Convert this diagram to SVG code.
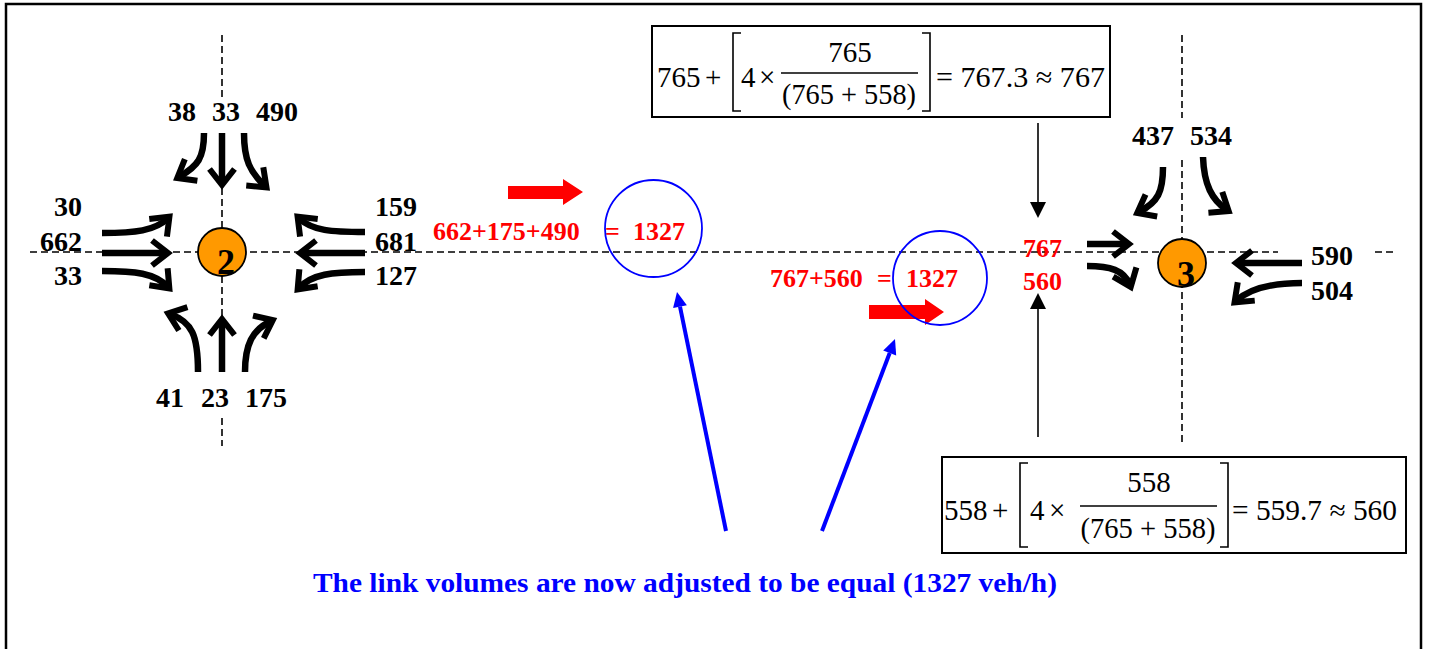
<svg xmlns="http://www.w3.org/2000/svg" width="1429" height="649" viewBox="0 0 1429 649">
<defs>
<style>
.t{font-family:"Liberation Serif","Times New Roman",serif;}
.lab{font-family:"Liberation Serif","Times New Roman",serif;font-weight:bold;font-size:28px;fill:#000;}
.red{font-family:"Liberation Serif","Times New Roman",serif;font-weight:bold;font-size:26px;fill:#FF0000;}
.num{font-family:"Liberation Serif","Times New Roman",serif;font-weight:bold;font-size:36px;fill:#000;text-anchor:middle;}
.eq{font-family:"Liberation Serif","Times New Roman",serif;font-size:29px;fill:#000;}
.dash{stroke:#000;stroke-width:1.6;stroke-dasharray:7 4;fill:none;}
.mv{stroke:#000;stroke-width:6.5;fill:none;marker-end:url(#chev);}
.node{fill:#FF9900;stroke:#000;stroke-width:1.8;}
.box{fill:#fff;stroke:#000;stroke-width:2;}
.brk{fill:none;stroke:#000;stroke-width:1.6;}
.blue{stroke:#0000FF;stroke-width:4;fill:none;}
.bc{fill:none;stroke:#0000FF;stroke-width:1.8;}
</style>
<marker id="chev" markerUnits="userSpaceOnUse" markerWidth="40" markerHeight="40" viewBox="-20 -20 40 40" refX="0" refY="0" orient="auto" overflow="visible">
<path d="M-14,-12.5 L2,0 L-14,12.5" fill="none" stroke="#000" stroke-width="6" stroke-linejoin="miter"/>
</marker>
</defs>
<rect x="0" y="0" width="1429" height="649" fill="#fff"/>
<rect x="6" y="4" width="1415" height="700" fill="none" stroke="#000" stroke-width="2.5"/>

<g id="grid">
<path class="dash" d="M30,252 H1278 M1375,252 H1396"/>
<path class="dash" d="M222,35 V97 M222,133 V372 M222,418 V446"/>
<path class="dash" d="M1182,35 V118 M1182,160 V446"/>
</g>

<g id="connectors">
<path class="mv" d="M102,233 C135,233 155,231 168,218"/>
<path class="mv" d="M102,253 H166"/>
<path class="mv" d="M102,271 C135,271 155,273 168,287"/>
<path class="mv" d="M365,232 C332,232 312,231 299,218"/>
<path class="mv" d="M365,253 H302"/>
<path class="mv" d="M365,272 C332,272 312,274 299,288"/>
<path class="mv" d="M204,133 C204,158 198,166 179,177"/>
<path class="mv" d="M222,133 V183"/>
<path class="mv" d="M244,133 C244,160 250,172 265,186"/>
<path class="mv" d="M198,372 C198,335 192,322 170,314"/>
<path class="mv" d="M222,372 V321"/>
<path class="mv" d="M245,372 C245,345 252,330 271,321"/>
<path class="mv" d="M1087,244 H1127"/>
<path class="mv" d="M1087,266 C1110,266 1124,270 1130,285"/>
<path class="mv" d="M1163,167 C1163,192 1158,202 1139,212"/>
<path class="mv" d="M1203,157 C1204,185 1212,200 1227,210"/>
<path class="mv" d="M1302,263 H1238"/>
<path class="mv" d="M1302,283 C1272,283 1250,288 1236,301"/>
<path d="M1038,123 V204" stroke="#000" stroke-width="1.6"/>
<polygon points="1038,218 1030,202 1046,202" fill="#000"/>
<path d="M1038,437 V308" stroke="#000" stroke-width="1.6"/>
<polygon points="1038,293 1030,309 1046,309" fill="#000"/>
<path class="blue" d="M726,531 L680,306.7"/>
<polygon points="677,292 686.9,305.3 673.1,308.1" fill="#0000FF"/>
<path class="blue" d="M822,531 L889.7,353"/>
<polygon points="895,339 896.2,355.5 883.2,350.5" fill="#0000FF"/>
<polygon points="508,186 563,186 563,179 583,192 563,205 563,199 508,199" fill="#FF0000"/>
<polygon points="869,305 925,305 925,299 944,312 925,325 925,319 869,319" fill="#FF0000"/>
</g>

<g id="node2">
<circle class="node" cx="222" cy="252" r="24"/>
<text class="num" x="226" y="274">2</text>
</g>
<g id="node3">
<circle class="node" cx="1182" cy="263" r="24"/>
<text class="num" x="1186" y="286">3</text>
</g>

<g id="labels2">
<text class="lab" x="168" y="121">38</text>
<text class="lab" x="212" y="121">33</text>
<text class="lab" x="256" y="121">490</text>
<text class="lab" x="82" y="216" text-anchor="end">30</text>
<text class="lab" x="82" y="251" text-anchor="end">662</text>
<text class="lab" x="82" y="285" text-anchor="end">33</text>
<text class="lab" x="375" y="216">159</text>
<text class="lab" x="375" y="251">681</text>
<text class="lab" x="375" y="285">127</text>
<text class="lab" x="156" y="407">41</text>
<text class="lab" x="201" y="407">23</text>
<text class="lab" x="245" y="407">175</text>
</g>
<g id="labels3">
<text class="lab" x="1132" y="145">437</text>
<text class="lab" x="1190" y="145">534</text>
<text class="lab" x="1311" y="265">590</text>
<text class="lab" x="1311" y="300">504</text>
<text class="red" x="1023" y="257">767</text>
<text class="red" x="1023" y="290">560</text>
</g>

<g id="sum1">
<text class="red" x="433" y="240">662+175+490</text>
<text class="red" x="605" y="240">=</text>
<text class="red" x="633" y="240">1327</text>
<circle class="bc" cx="653.5" cy="228.5" r="48.5"/>
</g>
<g id="sum2">
<text class="red" x="770" y="287">767+560</text>
<text class="red" x="877" y="287">=</text>
<text class="red" x="906" y="287">1327</text>
<circle class="bc" cx="940" cy="278" r="47"/>
</g>

<g id="formula1">
<rect class="box" x="652" y="26" width="458" height="91"/>
<text class="eq" x="657" y="87">765</text>
<text class="eq" x="705" y="87">+</text>
<path class="brk" d="M741,33 H733 V111 H741"/>
<text class="eq" x="741" y="87">4</text>
<text class="eq" x="759" y="87">×</text>
<text class="eq" x="850" y="62" text-anchor="middle">765</text>
<path d="M781,73 H918" stroke="#000" stroke-width="1.4"/>
<text class="eq" x="849" y="104" text-anchor="middle" textLength="134" lengthAdjust="spacingAndGlyphs">(765 + 558)</text>
<path class="brk" d="M922,33 H930 V111 H922"/>
<text class="eq" x="936" y="87" textLength="169" lengthAdjust="spacingAndGlyphs">= 767.3 ≈ 767</text>
</g>

<g id="formula2">
<rect class="box" x="942" y="457" width="464" height="96"/>
<text class="eq" x="944" y="520">558</text>
<text class="eq" x="992" y="520">+</text>
<path class="brk" d="M1028,463 H1020 V547 H1028"/>
<text class="eq" x="1030" y="520">4</text>
<text class="eq" x="1049" y="520">×</text>
<text class="eq" x="1149" y="492" text-anchor="middle">558</text>
<path d="M1080,506 H1217" stroke="#000" stroke-width="1.4"/>
<text class="eq" x="1148" y="538" text-anchor="middle" textLength="135" lengthAdjust="spacingAndGlyphs">(765 + 558)</text>
<path class="brk" d="M1220,463 H1228 V547 H1220"/>
<text class="eq" x="1232" y="520" textLength="165" lengthAdjust="spacingAndGlyphs">= 559.7 ≈ 560</text>
</g>

<g id="caption">
<text class="t" x="313" y="592" font-weight="bold" font-size="27" fill="#0000FF" textLength="744" lengthAdjust="spacingAndGlyphs">The link volumes are now adjusted to be equal (1327 veh/h)</text>
</g>
</svg>
